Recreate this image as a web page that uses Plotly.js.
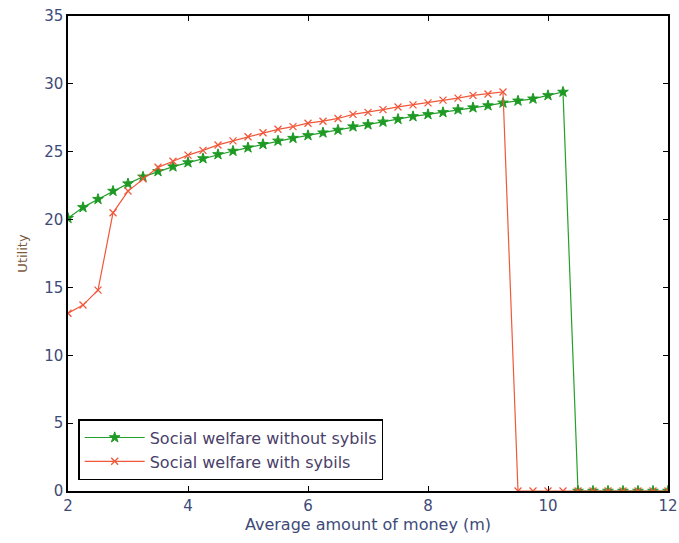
<!DOCTYPE html>
<html>
<head>
<meta charset="utf-8">
<script src="https://cdn.plot.ly/plotly-3.0.1.min.js"></script>
<style>html,body{margin:0;padding:0;background:#fff}#chart{width:679px;height:543px}</style>
</head>
<body>
<div id="chart"></div>
<script>
const xValues = [2,2.25,2.5,2.75,3,3.25,3.5,3.75,4,4.25,4.5,4.75,5,5.25,5.5,5.75,6,6.25,6.5,6.75,7,7.25,7.5,7.75,8,8.25,8.5,8.75,9,9.25,9.5,9.75,10,10.25,10.5,10.75,11,11.25,11.5,11.75,12];
const withoutSybils = [20.1,20.9,21.5,22.1,22.65,23.15,23.55,23.9,24.2,24.5,24.8,25.05,25.3,25.55,25.8,26.0,26.2,26.4,26.6,26.85,27.0,27.2,27.4,27.6,27.75,27.9,28.1,28.25,28.4,28.6,28.75,28.9,29.15,29.4,0,0,0,0,0,0,0];
const withSybils = [13.1,13.7,14.8,20.5,22.1,23.0,23.85,24.3,24.75,25.1,25.5,25.8,26.1,26.4,26.65,26.85,27.1,27.25,27.45,27.75,27.9,28.1,28.3,28.45,28.6,28.8,28.95,29.15,29.25,29.4,0,0,0,0,0,0,0,0,0,0,0];
const seriesNames = ["Social welfare without sybils","Social welfare with sybils"];
const xTicks = [2,4,6,8,10,12];
const yTicks = [0,5,10,15,20,25,30,35];

const fontFam = "DejaVu Sans, Verdana, sans-serif";
const textColor = "#3d4a78";
const traces = [
  {x: xValues, y: withoutSybils, name: seriesNames[0], type: "scatter", mode: "lines+markers",
   line: {color: "#22a02a", width: 1.2},
   marker: {symbol: "star", size: 8, color: "#1e9a24", line: {color: "#1e9a24", width: 1}}},
  {x: xValues, y: withSybils, name: seriesNames[1], type: "scatter", mode: "lines+markers",
   line: {color: "#f0583a", width: 1.2},
   marker: {symbol: "x-thin-open", size: 7, color: "#f0583a", line: {color: "#f0583a", width: 1.3}}}
];
const axisCommon = {
  showline: true, linecolor: "#000", linewidth: 1.6, mirror: "ticks",
  ticks: "inside", ticklen: 5, tickcolor: "#000", tickwidth: 1,
  showgrid: false, zeroline: false, automargin: false,
  ticklabeloverflow: "allow",
  tickfont: {family: fontFam, size: 15, color: textColor}
};
const layout = {
  width: 679, height: 543,
  margin: {l: 68, r: 11, t: 16, b: 52},
  paper_bgcolor: "#fff", plot_bgcolor: "#fff",
  showlegend: true,
  xaxis: Object.assign({}, axisCommon, {range: [2, 12], tickvals: xTicks, ticktext: xTicks.map(String),
    title: {text: "Average amount of money (m)", standoff: 0,
      font: {family: fontFam, size: 16, color: textColor}}}),
  yaxis: Object.assign({}, axisCommon, {range: [0, 35], tickvals: yTicks, ticktext: yTicks.map(String),
    title: {text: "Utility", standoff: 14,
      font: {family: fontFam, size: 13, color: "#7a5a40"}}}),
  legend: {x: 0.017, y: 0.023, xanchor: "left", yanchor: "bottom",
    bgcolor: "#fff", bordercolor: "#000", borderwidth: 1.5,
    itemwidth: 60, tracegroupgap: 0,
    font: {family: fontFam, size: 16, color: "#4a3f6a"}}
};
Plotly.newPlot("chart", traces, layout, {displayModeBar: false, staticPlot: true});
</script>
</body>
</html>
